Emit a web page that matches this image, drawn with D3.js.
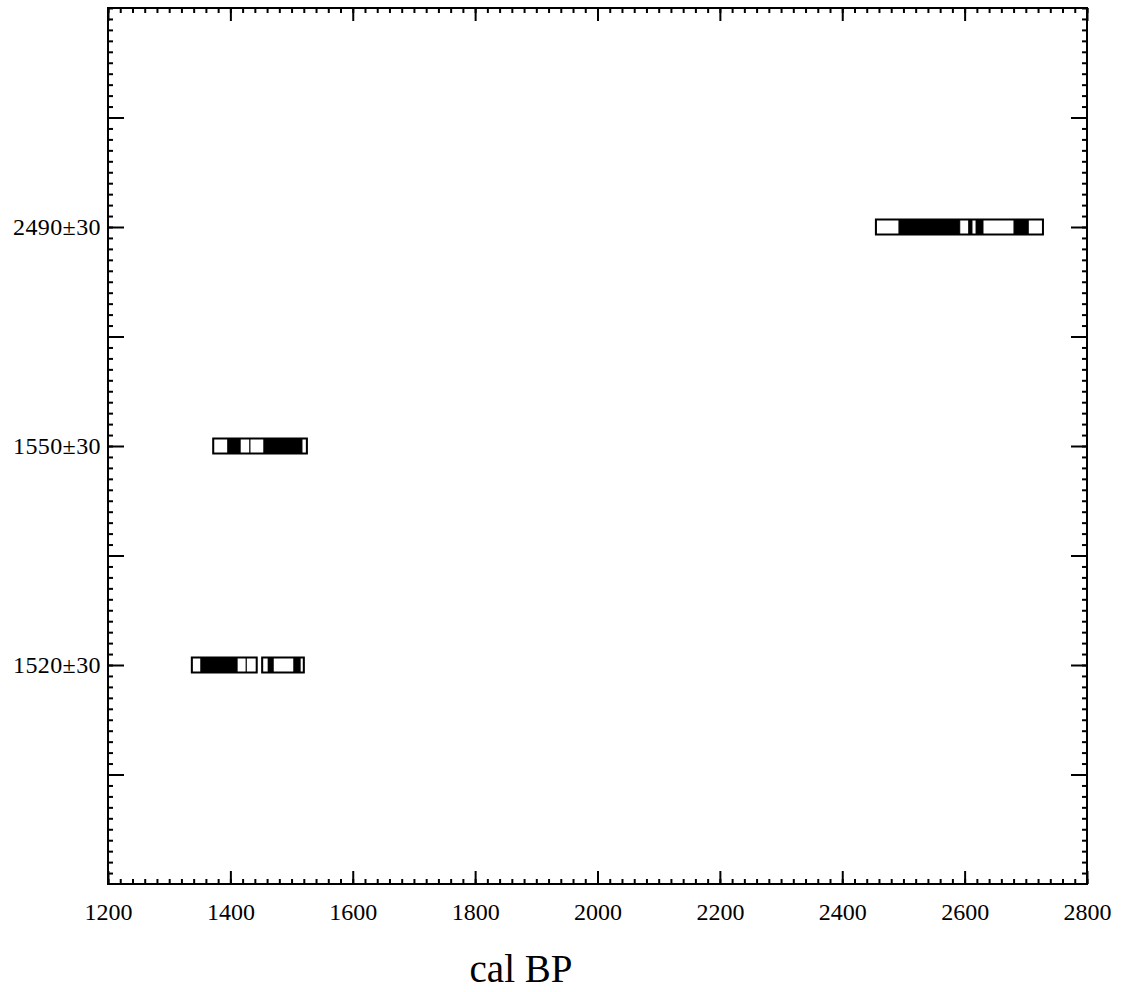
<!DOCTYPE html>
<html>
<head>
<meta charset="utf-8">
<script src="https://cdn.jsdelivr.net/npm/d3@7"></script>
<style>
  body { margin: 0; background: #fff; }
  svg { display: block; }
  .axis path { display: none; }
  .axis line { stroke: #000; stroke-width: 2; }
</style>
</head>
<body>
<div id="chart"></div>
<script>
// calibrated radiocarbon ages, one row each (row counted from top)
var sampleLabels = ["2490\u00b130", "1550\u00b130", "1520\u00b130"];
var sampleRows = [2, 4, 6];

// outer ranges (cal BP) drawn as outlined boxes
var boxes = [
    [[2455, 2728]],
    [[1372, 1525]],
    [[1337, 1443], [1452, 1520]]
];

// cells inside the boxes: [from, to, filled]
var cells = [
    [[2455, 2493, 0], [2493, 2592, 1], [2592, 2607, 0], [2607, 2612, 1], [2612, 2619, 0],
     [2619, 2630, 1], [2630, 2681, 0], [2681, 2704, 1], [2704, 2728, 0]],
    [[1372, 1396, 0], [1396, 1416, 1], [1416, 1432, 0], [1432, 1455, 0], [1455, 1517, 1],
     [1517, 1525, 0]],
    [[1337, 1352, 0], [1352, 1411, 1], [1411, 1426, 0], [1426, 1443, 0],
     [1452, 1462, 0], [1462, 1470, 1], [1470, 1504, 0], [1504, 1514, 1], [1514, 1520, 0]]
];

var xMajor = d3.range(1200, 2801, 200);
var xMinor = d3.range(1200, 2801, 20);
var yMajor = d3.range(1, 8);
var yMinor = d3.range(0, 80).map(function(i) { return i / 10; });

var serif = "'Liberation Serif', 'DejaVu Serif', serif";

var width = 1131, height = 992,
    margin = { top: 8, right: 44, bottom: 108, left: 108 },
    innerWidth = width - margin.left - margin.right,
    innerHeight = height - margin.top - margin.bottom,
    barH = 15;

var svg = d3.select("#chart").append("svg")
    .attr("width", width)
    .attr("height", height);

var g = svg.append("g")
    .attr("transform", "translate(" + margin.left + "," + margin.top + ")");

var xScale = d3.scaleLinear().domain([1200, 2800]).range([0, innerWidth]);
var yScale = d3.scaleLinear().domain([0, 8]).range([0, innerHeight]);

// minor ticks, all four sides, pointing inward
g.append("g").attr("class", "axis")
    .attr("transform", "translate(0," + innerHeight + ")")
    .call(d3.axisBottom(xScale).tickValues(xMinor).tickSize(-5));
g.append("g").attr("class", "axis")
    .call(d3.axisTop(xScale).tickValues(xMinor).tickSize(-5));
g.append("g").attr("class", "axis")
    .call(d3.axisLeft(yScale).tickValues(yMinor).tickSize(-5));
g.append("g").attr("class", "axis")
    .attr("transform", "translate(" + innerWidth + ",0)")
    .call(d3.axisRight(yScale).tickValues(yMinor).tickSize(-5));
g.append("g").attr("class", "axis")
    .call(d3.axisTop(xScale).tickValues(xMajor).tickSize(-13));
g.append("g").attr("class", "axis")
    .attr("transform", "translate(" + innerWidth + ",0)")
    .call(d3.axisRight(yScale).tickValues(yMajor).tickSize(-16));
g.selectAll(".axis text").remove();

// labelled axes
g.append("g").attr("class", "axis x-axis")
    .attr("transform", "translate(0," + innerHeight + ")")
    .call(d3.axisBottom(xScale).tickValues(xMajor).tickSize(-13).tickPadding(19).tickFormat(d3.format("d")))
    .attr("font-size", 24)
    .attr("font-family", serif);

var yAxisG = g.append("g").attr("class", "axis y-axis")
    .call(d3.axisLeft(yScale).tickValues(yMajor).tickSize(-16).tickPadding(7)
        .tickFormat(function(d) {
            var i = sampleRows.indexOf(d);
            return i < 0 ? "" : sampleLabels[i];
        }))
    .attr("font-size", 24)
    .attr("font-family", serif);
yAxisG.selectAll("text")
    .attr("letter-spacing", 0.4)
    .filter(function(d) { return sampleRows.indexOf(d) < 0; })
    .remove();

// frame
g.append("rect")
    .attr("width", innerWidth)
    .attr("height", innerHeight)
    .attr("fill", "none")
    .attr("stroke", "#000")
    .attr("stroke-width", 2);

// samples
var rows = g.selectAll(".sample")
    .data(sampleRows)
    .enter().append("g")
    .attr("class", "sample")
    .attr("transform", function(d) { return "translate(0," + yScale(d) + ")"; });

rows.selectAll(".cell")
    .data(function(d, i) { return cells[i]; })
    .enter().append("rect")
    .attr("class", "cell")
    .attr("x", function(d) { return xScale(d[0]); })
    .attr("width", function(d) { return xScale(d[1]) - xScale(d[0]); })
    .attr("y", -barH / 2)
    .attr("height", barH)
    .attr("fill", function(d) { return d[2] ? "#000" : "#fff"; })
    .attr("stroke", "#000")
    .attr("stroke-width", 1);

rows.selectAll(".box")
    .data(function(d, i) { return boxes[i]; })
    .enter().append("rect")
    .attr("class", "box")
    .attr("x", function(d) { return xScale(d[0]); })
    .attr("width", function(d) { return xScale(d[1]) - xScale(d[0]); })
    .attr("y", -barH / 2)
    .attr("height", barH)
    .attr("fill", "none")
    .attr("stroke", "#000")
    .attr("stroke-width", 2);

// x label
svg.append("text")
    .attr("x", 521)
    .attr("y", 982)
    .attr("text-anchor", "middle")
    .attr("font-family", serif)
    .attr("font-size", 39)
    .text("cal BP");
</script>
</body>
</html>
